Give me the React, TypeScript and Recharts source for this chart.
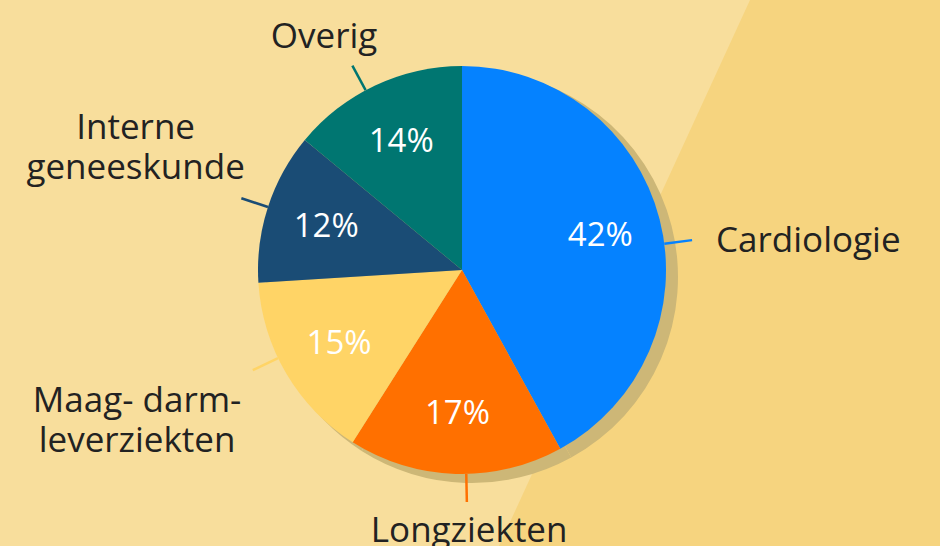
import React from 'react';
import { PieChart, Pie, Cell } from 'recharts';

// slices run clockwise from 12 o'clock
const categories = ['Cardiologie', 'Longziekten', 'Maag- darm-\nleverziekten', 'Interne\ngeneeskunde', 'Overig'];
const shares = [42, 17, 15, 12, 14];
const sliceColors = ['#0582FF', '#FF7000', '#FFD466', '#1A4C75', '#007671'];

// small hand nudges of the leader lines, degrees
const leaderNudge = [-7, 3, -5, 0, 3];

const data = categories.map((name, i) => ({ name, value: shares[i] }));

const W = 940;
const H = 546;
const CX = 462;
const CY = 270;
const R = 204;
const FONT = 35;
const PCT_FONT = 33;
const LINE_H = 40;
const LEAD = 28;
const RAD = Math.PI / 180;
const TEXT = '#222222';
const FAMILY = '"Open Sans", "Noto Sans", sans-serif';

const renderLabel = (props: any) => {
	const { cx, cy, midAngle, outerRadius, index } = props;
	const color = sliceColors[index];

	const ia = -midAngle * RAD;
	const ix = cx + outerRadius * 0.7 * Math.cos(ia);
	const iy = cy + outerRadius * 0.7 * Math.sin(ia);

	const la = -(midAngle + leaderNudge[index]) * RAD;
	const cos = Math.cos(la);
	const sin = Math.sin(la);
	const x0 = cx + outerRadius * cos;
	const y0 = cy + outerRadius * sin;
	const x1 = cx + (outerRadius + LEAD) * cos;
	const y1 = cy + (outerRadius + LEAD) * sin;

	const lines = categories[index].split('\n');
	const w = Math.max(...lines.map((l) => l.length)) * FONT * 0.57;
	const h = lines.length * LINE_H;
	let tx: number;
	let ty: number;
	let anchor: 'start' | 'middle' = 'middle';
	if (cos > 0.5) {
		anchor = 'start';
		tx = x1 + 24;
		ty = y1;
	} else if (cos < -0.5) {
		tx = x1 + 4 - w / 2;
		ty = sin < 0 ? y1 - 12 - h / 2 : y1 + 10 + h / 2;
	} else {
		tx = x1 + (cos * w) / 2;
		ty = sin < 0 ? y1 - 10 - h / 2 : y1 + 8 + h / 2;
	}
	const firstY = ty - ((lines.length - 1) * LINE_H) / 2;

	return (
		<g key={`lbl-${index}`}>
			<text x={ix} y={iy} dy="0.35em" textAnchor="middle" fill="#ffffff"
				fontSize={PCT_FONT} fontFamily={FAMILY}>
				{`${shares[index]}%`}
			</text>
			<line x1={x0} y1={y0} x2={x1} y2={y1} stroke={color} strokeWidth={2.5} />
			<text x={tx} y={firstY} textAnchor={anchor} fill={TEXT} fontSize={FONT} fontFamily={FAMILY}>
				{lines.map((l, i) => (
					<tspan key={i} x={tx} y={firstY + i * LINE_H} dy="0.35em">{l}</tspan>
				))}
			</text>
		</g>
	);
};

export default function App() {
	return (
		<div style={{ position: 'absolute', left: 0, top: 0, width: W, height: H, background: '#F8DE9C' }}>
			<svg width={W} height={H} style={{ position: 'absolute', left: 0, top: 0 }}>
				<polygon points="750,0 940,0 940,546 499,546" fill="#F6D47F" />
			</svg>
			<div style={{ position: 'absolute', left: 0, top: 0 }}>
				<PieChart width={W} height={H} margin={{ top: 0, right: 0, bottom: 0, left: 0 }}>
					<Pie
						data={data}
						dataKey="value"
						cx={CX + 10}
						cy={CY + 7}
						outerRadius={R + 2}
						startAngle={90}
						endAngle={-270}
						fill="#CDB777"
						stroke="none"
						isAnimationActive={false}
					/>
					<Pie
						data={data}
						dataKey="value"
						nameKey="name"
						cx={CX}
						cy={CY}
						outerRadius={R}
						startAngle={90}
						endAngle={-270}
						stroke="none"
						labelLine={false}
						label={renderLabel}
						isAnimationActive={false}
					>
						{data.map((d, i) => (
							<Cell key={d.name} fill={sliceColors[i]} />
						))}
					</Pie>
				</PieChart>
			</div>
		</div>
	);
}
